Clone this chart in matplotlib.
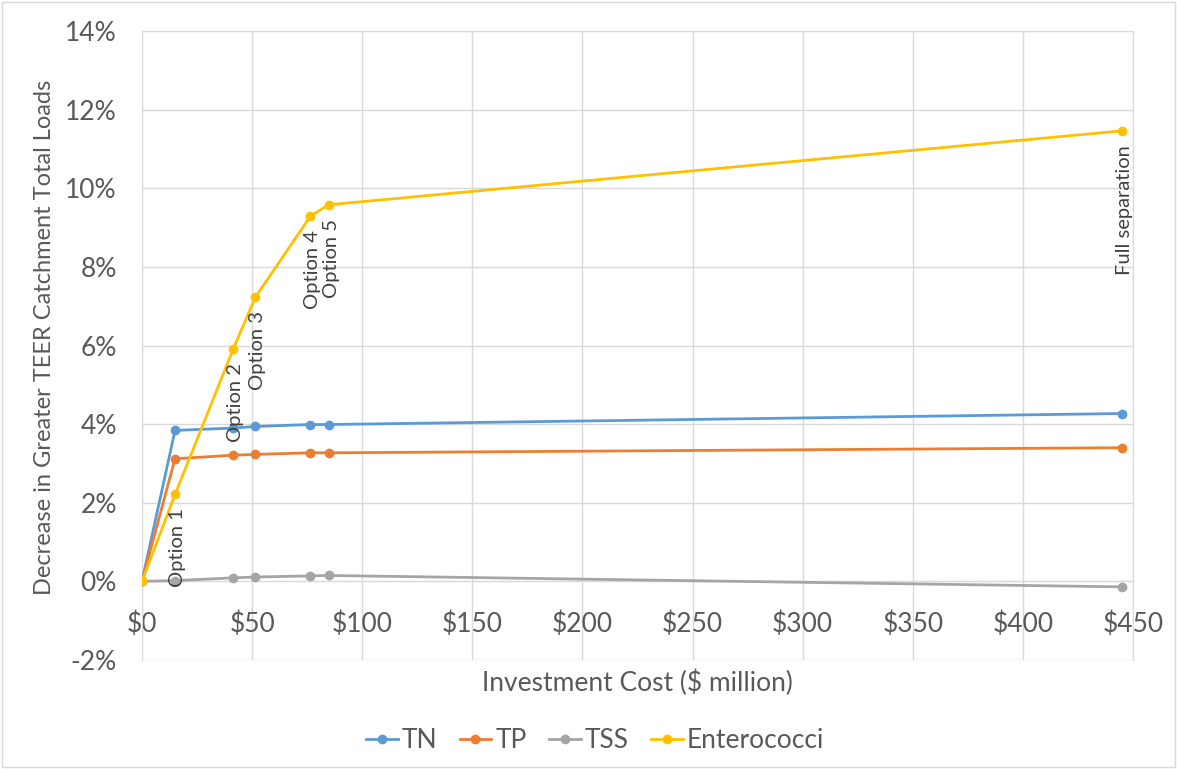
import matplotlib.pyplot as plt
from matplotlib.patches import Rectangle
from matplotlib.ticker import FuncFormatter

plt.rcParams["font.family"] = ["Lato", "DejaVu Sans"]

# Investment cost ($ million) for each option
cost = [0, 15, 41.5, 51.5, 76.5, 84.7, 445]
option_labels = ["", "Option 1", "Option 2", "Option 3", "Option 4", "Option 5", "Full separation"]

# Decrease in loads (%)
tn = [0, 3.84, 3.90, 3.94, 3.99, 3.99, 4.27]
tp = [0, 3.12, 3.21, 3.23, 3.27, 3.27, 3.40]
tss = [0, 0.02, 0.09, 0.11, 0.14, 0.15, -0.14]
entero = [0, 2.21, 5.92, 7.23, 9.29, 9.58, 11.46]

text_col = "#595959"
grid_col = "#d9d9d9"

fig = plt.figure(figsize=(11.77, 7.69), dpi=100)
ax = fig.add_axes([142 / 1177, 1 - 660 / 769, (1133 - 142) / 1177, (660 - 31) / 769])

series = [("TN", tn, "#5B9BD5"), ("TP", tp, "#ED7D31"),
          ("TSS", tss, "#A5A5A5"), ("Enterococci", entero, "#FFC000")]
for name, vals, col in series:
    ax.plot(cost, vals, color=col, lw=2, marker="o", ms=6, label=name, zorder=3)

# option labels, rotated, just under the Enterococci points
for x, y, lab in zip(cost, entero, option_labels):
    if lab:
        ax.annotate(lab, (x, y), xytext=(1.8, -10), textcoords="offset points",
                    rotation=90, ha="center", va="top", fontsize=14.5, color="#404040",
                    zorder=4)

ax.set_xlim(0, 450)
ax.set_ylim(-2, 14)
ax.set_xticks(range(0, 451, 50))
ax.set_yticks(range(-2, 15, 2))
ax.xaxis.set_major_formatter(FuncFormatter(lambda v, p: f"${v:.0f}"))
ax.yaxis.set_major_formatter(FuncFormatter(lambda v, p: f"{v:.0f}%"))
ax.grid(True, color=grid_col, lw=1, zorder=0)
ax.set_axisbelow(True)

for s in ["top", "right", "left"]:
    ax.spines[s].set_color(grid_col)
ax.spines["bottom"].set_position(("data", 0))
ax.spines["bottom"].set_color(grid_col)
ax.tick_params(length=0, labelsize=19, colors=text_col)
ax.tick_params(axis="x", pad=22)
ax.tick_params(axis="y", pad=18)

fig.text(637 / 1177, 1 - 683 / 769, "Investment Cost ($ million)", ha="center", va="center",
         fontsize=19, color=text_col)
fig.text(45 / 1177, 1 - 337 / 769, "Decrease in Greater TEER Catchment Total Loads",
         ha="center", va="center", rotation=90, fontsize=17, color=text_col)

fig.legend(loc="center", bbox_to_anchor=(595 / 1177, 1 - 741 / 769), ncol=4, frameon=False,
           fontsize=19, labelcolor=text_col, handlelength=1.2, columnspacing=0.85,
           handletextpad=0.15)

fig.patches.append(Rectangle((0.002, 0.003), 0.996, 0.994, transform=fig.transFigure,
                             fill=False, edgecolor=grid_col, lw=1))

fig.savefig("out.png", dpi=100)
